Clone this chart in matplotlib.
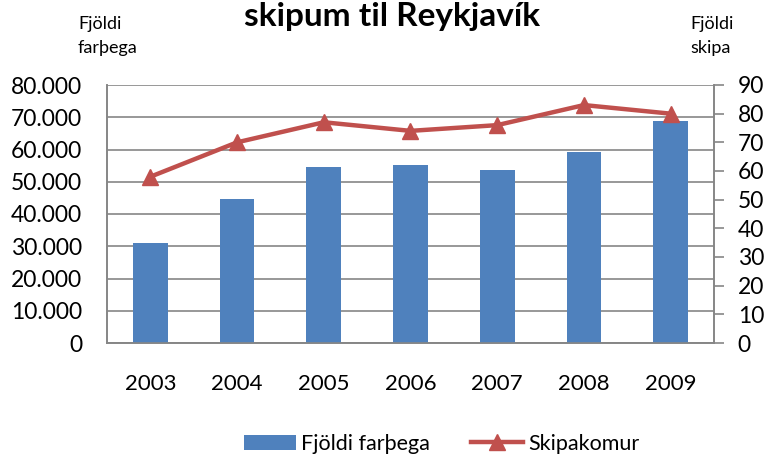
import matplotlib
matplotlib.use("Agg")
import matplotlib.pyplot as plt
from matplotlib.ticker import FuncFormatter, MultipleLocator
import numpy as np

years = ["2003", "2004", "2005", "2006", "2007", "2008", "2009"]
passengers = [31100, 44600, 54700, 55200, 53600, 59200, 68800]
ships = [58, 70, 77, 74, 76, 83, 80]

plt.rcParams['font.family'] = ['Lato', 'DejaVu Sans']

BLUE = "#4F81BD"
RED = "#C0504D"
GRID = "#868686"

fig = plt.figure(figsize=(7.68, 4.54), dpi=100)
ax = fig.add_axes([107/768, 1-343/454, 607/768, 258/454])
ax2 = ax.twinx()

x = np.arange(len(years))
bars = ax.bar(x, passengers, width=0.40, color=BLUE, zorder=3, label="Fjöldi farþega")
line, = ax2.plot(x, ships, color=RED, lw=3.2, marker="^", markersize=11,
                 zorder=4, label="Skipakomur")

ax.set_xlim(-0.5, len(years) - 0.5)
ax.set_ylim(0, 80000)
ax2.set_ylim(0, 90)
ax.yaxis.set_major_locator(MultipleLocator(10000))
ax2.yaxis.set_major_locator(MultipleLocator(10))
ax.yaxis.set_major_formatter(FuncFormatter(lambda v, p: f"{int(v):,}".replace(",", ".")))

ax.grid(axis="y", color=GRID, lw=1.2, zorder=0)
ax.set_axisbelow(True)
ax2.set_zorder(ax.get_zorder() + 1)
ax2.patch.set_visible(False)

for a in (ax, ax2):
    for s in a.spines.values():
        s.set_color(GRID)
        s.set_linewidth(1.2)
    a.spines["top"].set_visible(False)

ax.set_xticks(x)
ax.set_xticklabels(years)
ax.tick_params(axis="x", length=0, pad=22, labelsize=16)
ax.tick_params(axis="y", length=0, pad=18, labelsize=16.5)
ax2.tick_params(axis="y", length=7, color=GRID, width=1.2, pad=10, labelsize=16.5)

fig.text(0.51, 1-26/454, "skipum til Reykjavík", ha="center", va="baseline",
         fontsize=24, fontweight="bold")
fig.text(78/768, 1-29/454, "Fjöldi", ha="left", va="baseline", fontsize=13)
fig.text(78/768, 1-53/454, "farþega", ha="left", va="baseline", fontsize=13)
fig.text(690/768, 1-29/454, "Fjöldi", ha="left", va="baseline", fontsize=13)
fig.text(690/768, 1-53/454, "skipa", ha="left", va="baseline", fontsize=13)

fig.legend([bars, line], ["Fjöldi farþega", "Skipakomur"], loc="center",
           bbox_to_anchor=(0.575, 1-444/454), ncol=2, frameon=False,
           fontsize=15.5, handlelength=2.4, handletextpad=0.25, columnspacing=1.9)

fig.savefig("out.png", dpi=100)
